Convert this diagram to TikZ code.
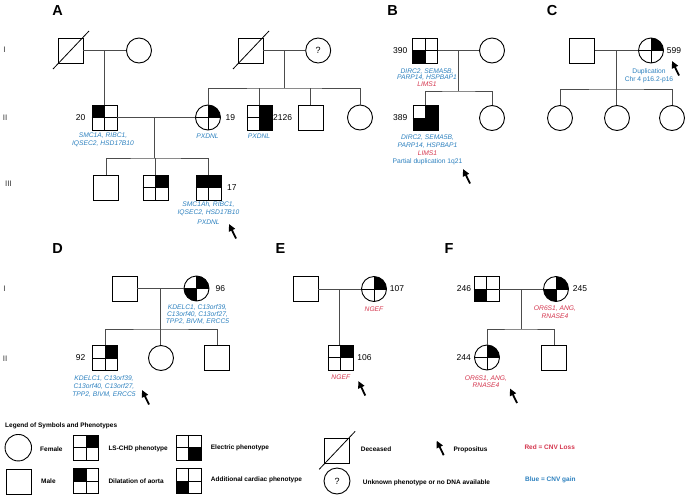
\documentclass[tikz,border=0pt]{standalone}
\usepackage{fontspec}
\setmainfont{Liberation Sans}
\usepackage{xcolor}
\usetikzlibrary{arrows.meta, calc}

\definecolor{cnvblue}{RGB}{44,128,190}
\definecolor{cnvred}{RGB}{212,54,78}

\tikzset{
  male/.style = {draw, line width = 0.9pt, rectangle, minimum size = 25pt, inner sep = 0pt},
  female/.style = {draw, line width = 0.9pt, circle, minimum size = 25pt, inner sep = 0pt},
  kin/.style = {draw = black!70, line width = 0.75pt},
  gene/.style = {font = \fontsize{6.7}{7}\selectfont\itshape, align = center, inner sep = 0pt, anchor = north, text = cnvblue},
  num/.style = {font = \fontsize{8.5}{10}\selectfont, inner sep = 0pt},
  gen/.style = {font = \fontsize{8}{9}\selectfont, inner sep = 0pt, text = black!80},
  panel/.style = {font = \fontsize{14.5}{17}\selectfont\bfseries, inner sep = 0pt},
  legend/.style = {font = \fontsize{6.5}{8}\selectfont\bfseries, inner sep = 0pt, anchor = west},
  propo/.style = {line width = 1.8pt, -{Triangle[length = 7pt, width = 6.5pt]}}
}

\pgfmathsetmacro{\rad}{12.5}
\newcommand{\sqfill}[2]{\fill (#1.center) rectangle (#1.#2);}
\newcommand{\cifill}[2]{\fill (#1.center) -- ++(#2:\rad pt) arc[start angle = #2, delta angle = 90, radius = \rad pt] -- cycle;}
\newcommand{\quads}[1]{\draw[line width = 0.9pt] (#1.north) -- (#1.south) (#1.west) -- (#1.east);}
\newcommand{\dead}[1]{\draw[line width = 0.8pt] ($(#1.center)+(-17.5,18.5)$) -- ($(#1.center)+(18.5,-19.5)$);}
\newcommand{\propos}[1]{\draw[propo] ($(#1)+(7,14.5)$) -- (#1);}

\begin{document}
\begin{tikzpicture}[x = 1pt, y = -1pt]
    \useasboundingbox (0,0) rectangle (688,498);

    % panel letters and generations
    \node[panel] (pa) at (57.5,11) {A};
    \node[panel] (pb) at (392.5,11) {B};
    \node[panel] (pc) at (552,11) {C};
    \node[panel] (pd) at (57.5,248.5) {D};
    \node[panel] (pe) at (280.5,248.5) {E};
    \node[panel] (pf) at (449,248.5) {F};
    \node[gen] (ga1) at (4.5,50) {I};
    \node[gen] (ga2) at (5,118) {II};
    \node[gen] (ga3) at (8.5,184) {III};
    \node[gen] (gd1) at (4.5,289) {I};
    \node[gen] (gd2) at (5,358.5) {II};

    % A
    \node[male] (a1) at (70.5,50.5) {};
    \dead{a1}
    \node[female] (a2) at (139,50.5) {};
    \node[male] (a3) at (104.5,117.5) {};
    \sqfill{a3}{north west}
    \quads{a3}
    \node[female] (a4) at (208,117.5) {};
    \cifill{a4}{0}
    \quads{a4}
    \node[male] (a5) at (106,187.5) {};
    \node[male] (a6) at (155.5,187.5) {};
    \sqfill{a6}{north east}
    \quads{a6}
    \node[male] (a7) at (208.5,187.5) {};
    \sqfill{a7}{north east}
    \sqfill{a7}{north west}
    \quads{a7}
    \node[male] (a8) at (250.5,50.5) {};
    \dead{a8}
    \node[female, font = \fontsize{9}{10}\selectfont] (a9) at (318.2,50.5) {?};
    \node[male] (a10) at (259.5,117.5) {};
    \sqfill{a10}{north east}
    \sqfill{a10}{south east}
    \quads{a10}
    \node[male] (a11) at (310.5,117.5) {};
    \node[female] (a12) at (360,117.5) {};

    \coordinate (mA1) at ($(a1)!0.5!(a2)$);
    \coordinate (mA2) at (154.5,117.5);
    \coordinate (sA2) at (154.5,158);
    \coordinate (mA3) at ($(a8)!0.5!(a9)$);
    \coordinate (sA3) at ($(mA3)+(0,37.5)$);
    \draw[kin] (a1) -- (a2);
    \draw[kin] (mA1) -- (mA1 |- a3.north);
    \draw[kin] (a3) -- (a4);
    \draw[kin] (mA2) -- (sA2);
    \draw[kin] (a5.north) |- (sA2) -| (a7.north);
    \draw[kin] (a6.north) -- (a6.north |- sA2);
    \draw[kin] (a8) -- (a9);
    \draw[kin] (mA3) -- (sA3);
    \draw[kin] (a4.north) |- (sA3) -| (a12.north);
    \draw[kin] (a10.north) -- (a10.north |- sA3);
    \draw[kin] (a11.north) -- (a11.north |- sA3);

    \node[num, anchor = east] (n20) at ([xshift = -6pt]a3.west) {20};
    \node[num, anchor = west] (n19) at ([xshift = 4.5pt]a4.east) {19};
    \node[num, anchor = west] (n2126) at ([xshift = 0.5pt]a10.east) {2126};
    \node[num, anchor = west] (n17) at ([xshift = 5.5pt]a7.east) {17};
    \node[gene, font = \fontsize{6.7}{8.3}\selectfont\itshape] (t20) at (103,132.6) {SMC1A, RIBC1,\\IQSEC2, HSD17B10};
    \node[gene] (t19) at (207.5,133.6) {PXDNL};
    \node[gene] (t2126) at (259,133.6) {PXDNL};
    \node[gene, font = \fontsize{6.7}{8.4}\selectfont\itshape] (t17) at (208.5,201) {SMC1Ah, RIBC1,\\IQSEC2, HSD17B10\\[1.6pt]PXDNL};
    \coordinate (pA) at (229,224);
    \propos{pA}

    % B
    \node[male] (b1) at (425,50.5) {};
    \sqfill{b1}{south west}
    \quads{b1}
    \node[female] (b2) at (492,50.5) {};
    \node[male] (b3) at (425.5,118) {};
    \sqfill{b3}{north east}
    \sqfill{b3}{south east}
    \sqfill{b3}{south west}
    \quads{b3}
    \node[female] (b4) at (492,118) {};
    \coordinate (mB) at ($(b1)!0.5!(b2)$);
    \coordinate (sB) at ($(mB)+(0,40.5)$);
    \draw[kin] (b1) -- (b2);
    \draw[kin] (mB) -- (sB);
    \draw[kin] (b3.north) |- (sB) -| (b4.north);
    \node[num, anchor = east] (n390) at ([xshift = -4.5pt]b1.west) {390};
    \node[num, anchor = east] (n389) at ([xshift = -5pt]b3.west) {389};
    \node[gene, font = \fontsize{6.7}{6.7}\selectfont\itshape] (t390) at (427,68.3) {DIRC2, SEMA5B,\\PARP14, HSPBAP1\\{\color{cnvred}LIMS1}};
    \node[gene, font = \fontsize{6.7}{8}\selectfont\itshape] (t389) at (427.5,134.3) {DIRC2, SEMA5B,\\PARP14, HSPBAP1\\{\color{cnvred}LIMS1}\\{\upshape Partial duplication 1q21}};
    \coordinate (pB) at (463,169);
    \propos{pB}

    % C
    \node[male] (c1) at (582,50.5) {};
    \node[female] (c2) at (651,50.5) {};
    \cifill{c2}{0}
    \quads{c2}
    \node[female] (c3) at (560,118) {};
    \node[female] (c4) at (617,118) {};
    \node[female] (c5) at (672,118) {};
    \coordinate (mC) at ($(c1)!0.5!(c2)$);
    \coordinate (sC) at ($(mC)+(0,38.5)$);
    \draw[kin] (c1) -- (c2);
    \draw[kin] (mC) -- (mC |- c4.north);
    \draw[kin] (c3.north) |- (sC) -| (c5.north);
    \node[num, anchor = west] (n599) at ([xshift = 2.7pt]c2.east) {599};
    \node[gene, font = \fontsize{6.7}{8.3}\selectfont] (t599) at (649,68.6) {Duplication\\Chr 4 p16.2-p16};
    \coordinate (pC) at (672,61);
    \propos{pC}

    % D
    \node[male] (d1) at (124.5,288.5) {};
    \node[female] (d2) at (196.5,288.5) {};
    \cifill{d2}{0}
    \cifill{d2}{180}
    \quads{d2}
    \node[male] (d3) at (105,358) {};
    \sqfill{d3}{north east}
    \quads{d3}
    \node[female] (d4) at (161,358) {};
    \node[male] (d5) at (217,358) {};
    \coordinate (mD) at ($(d1)!0.5!(d2)$);
    \coordinate (sD) at ($(mD)+(0,40.5)$);
    \draw[kin] (d1) -- (d2);
    \draw[kin] (mD) -- (mD |- d4.north);
    \draw[kin] (d3.north) |- (sD) -| (d5.north);
    \node[num, anchor = west] (n96) at ([xshift = 6pt]d2.east) {96};
    \node[num, anchor = east] (n92) at ([xshift = -6.5pt]d3.west) {92};
    \node[gene, font = \fontsize{6.7}{7.2}\selectfont\itshape] (t96) at (197.5,304.4) {KDELC1, C13orf39,\\C13orf40, C13orf27,\\TPP2, BIVM, ERCC5};
    \node[gene, font = \fontsize{6.7}{8}\selectfont\itshape] (t92) at (104,375) {KDELC1, C13orf39,\\C13orf40, C13orf27,\\TPP2, BIVM, ERCC5};
    \coordinate (pD) at (142,390);
    \propos{pD}

    % E
    \node[male] (e1) at (305.5,289) {};
    \node[female] (e2) at (374,289) {};
    \cifill{e2}{0}
    \quads{e2}
    \node[male] (e3) at (340.5,357.5) {};
    \sqfill{e3}{north east}
    \quads{e3}
    \coordinate (mE) at ($(e1)!0.5!(e2)$);
    \draw[kin] (e1) -- (e2);
    \draw[kin] (mE) -- (mE |- e3.north);
    \node[num, anchor = west] (n107) at ([xshift = 2.7pt]e2.east) {107};
    \node[num, anchor = west] (n106) at ([xshift = 3.7pt]e3.east) {106};
    \node[gene, text = cnvred] (t107) at (374,307) {NGEF};
    \node[gene, text = cnvred] (t106) at (340.8,374.3) {NGEF};
    \coordinate (pE) at (358.3,381);
    \propos{pE}

    % F
    \node[male] (f1) at (486.5,289) {};
    \sqfill{f1}{south west}
    \quads{f1}
    \node[female] (f2) at (556,289) {};
    \cifill{f2}{0}
    \cifill{f2}{180}
    \quads{f2}
    \node[female] (f3) at (487,357.5) {};
    \cifill{f3}{0}
    \quads{f3}
    \node[male] (f4) at (554,357.5) {};
    \coordinate (mF) at ($(f1)!0.5!(f2)$);
    \coordinate (sF) at ($(mF)+(0,40)$);
    \draw[kin] (f1) -- (f2);
    \draw[kin] (mF) -- (sF);
    \draw[kin] (f3.north) |- (sF) -| (f4.north);
    \node[num, anchor = east] (n246) at ([xshift = -2.3pt]f1.west) {246};
    \node[num, anchor = west] (n245) at ([xshift = 3.7pt]f2.east) {245};
    \node[num, anchor = east] (n244) at ([xshift = -3pt]f3.west) {244};
    \node[gene, text = cnvred, font = \fontsize{6.7}{7.4}\selectfont\itshape] (t245) at (555,306) {OR6S1, ANG,\\RNASE4};
    \node[gene, text = cnvred, font = \fontsize{6.7}{7.4}\selectfont\itshape] (t244) at (486,375.3) {OR6S1, ANG,\\RNASE4};
    \coordinate (pF) at (510,388.5);
    \propos{pF}

    % legend
    \node[legend] (lt) at (5,426) {Legend of Symbols and Phenotypes};
    \node[female, minimum size = 26.5pt] (lf) at (18.3,447.7) {};
    \node[legend] (lft) at (40,449.3) {Female};
    \node[male, minimum size = 25.5pt] (lm) at (18.8,481.7) {};
    \node[legend] (lmt) at (41,480.7) {Male};
    \node[male] (l1) at (86.2,447.8) {};
    \sqfill{l1}{north east}
    \quads{l1}
    \node[legend] (l1t) at (108.3,448.7) {LS-CHD phenotype};
    \node[male] (l2) at (86.2,481.2) {};
    \sqfill{l2}{north west}
    \quads{l2}
    \node[legend] (l2t) at (108.3,480.7) {Dilatation of aorta};
    \node[male] (l3) at (188.7,447.8) {};
    \sqfill{l3}{south east}
    \quads{l3}
    \node[legend] (l3t) at (210.7,447.7) {Electric phenotype};
    \node[male] (l4) at (188.7,481.2) {};
    \sqfill{l4}{south west}
    \quads{l4}
    \node[legend] (l4t) at (210.7,480) {Additional cardiac phenotype};
    \node[male] (l5) at (336.7,450.8) {};
    \dead{l5}
    \node[legend] (l5t) at (360.7,449) {Deceased};
    \node[female, minimum size = 26pt, font = \fontsize{9}{10}\selectfont] (l6) at (337,481) {?};
    \node[legend] (l6t) at (362.7,483.3) {Unknown phenotype or no DNA available};
    \coordinate (pL) at (436.7,440.7);
    \propos{pL}
    \node[legend] (l7t) at (453.3,450) {Propositus};
    \node[legend, text = cnvred] (l8t) at (524.3,446.7) {Red = CNV Loss};
    \node[legend, text = cnvblue] (l9t) at (525,480) {Blue = CNV gain};
\end{tikzpicture}
\end{document}
